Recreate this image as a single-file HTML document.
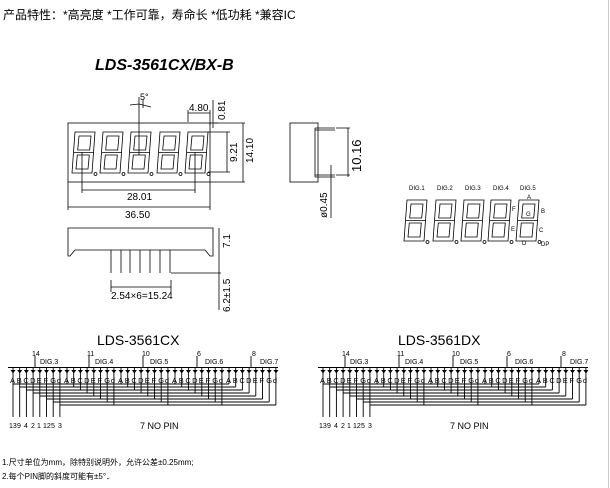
<!DOCTYPE html>
<html><head><meta charset="utf-8">
<style>
html,body{margin:0;padding:0;background:#fff;}
svg{display:block;}
text{font-family:"Liberation Sans","Noto Sans CJK SC",sans-serif;fill:#000;}
</style></head>
<body>
<svg width="610" height="488" viewBox="0 0 610 488" xmlns="http://www.w3.org/2000/svg">
<defs>
 <g id="dg" fill="none" stroke="#000" stroke-width="0.8">
  <polygon points="3,0 23,0 20,41 0,41"/>
  <polygon points="7,4 19,4 17.7,18 5.7,18"/>
  <polygon points="5.3,23 17.3,23 16,37 4,37"/>
  <line x1="2" y1="20.5" x2="21.5" y2="20.5"/>
  <circle cx="23.5" cy="42" r="1.5"/>
 </g>
 <g id="pd" fill="none" stroke="#000" stroke-width="0.9">
  <path d="M-2,367.5 H52"/>
  <path d="M25,356 V367.5"/>
  <path d="M3,367.5V384 M9.7,367.5V387 M16.4,367.5V390 M23.1,367.5V393 M29.8,367.5V396 M36.5,367.5V399 M43.2,367.5V402 M49.9,367.5V405"/>
  <g fill="#000" stroke="none">
   <polygon points="0.5,370 5.5,370 3,373.5"/><polygon points="7.2,370 12.2,370 9.7,373.5"/>
   <polygon points="13.9,370 18.9,370 16.4,373.5"/><polygon points="20.6,370 25.6,370 23.1,373.5"/>
   <polygon points="27.3,370 32.3,370 29.8,373.5"/><polygon points="34,370 39,370 36.5,373.5"/>
   <polygon points="40.7,370 45.7,370 43.2,373.5"/><polygon points="47.4,370 52.4,370 49.9,373.5"/>
  </g>
 </g>
 <g id="pin">
  <use href="#pd" x="10"/><use href="#pd" x="64"/><use href="#pd" x="118"/><use href="#pd" x="172"/><use href="#pd" x="226"/>
  <g fill="none" stroke="#000" stroke-width="0.9">
   <path d="M13,384H229 M19.7,387H235.7 M26.4,390H242.4 M33.1,393H249.1 M39.8,396H255.8 M46.5,399H262.5 M53.2,402H269.2 M59.9,405H275.9"/>
   <path d="M13,384V417 M19.7,387V417 M26.4,390V417 M33.1,393V417 M39.8,396V417 M46.5,399V417 M53.2,402V417 M59.9,405V417"/>
  </g>
 </g>
</defs>

<text x="3" y="19" font-size="12">产品特性：*高亮度 *工作可靠，寿命长 *低功耗 *兼容IC</text>
<text x="95" y="70" font-size="16" font-weight="bold" font-style="italic">LDS-3561CX/BX-B</text>

<g fill="none" stroke="#000" stroke-width="0.8">
 <rect x="68" y="123" width="142" height="59"/>
 <path d="M82,152V193 M195,152V193 M82,190H195 M68,182V210 M210,182V210 M68,207H210"/>
 <path d="M139,155V97 M130,105L139,104L151,107 M143,100V108"/>
 <path d="M188,122V110 M210,125V110 M188,113H210"/>
 <path d="M213,128V100 M214,123H218"/>
 <path d="M208,132H230 M208,172H230 M227,132V172"/>
 <path d="M210,123H245 M210,182H245 M243,123V182"/>
</g>
<use href="#dg" x="72" y="132"/><use href="#dg" x="100" y="132"/><use href="#dg" x="128" y="132"/><use href="#dg" x="157" y="132"/><use href="#dg" x="185" y="132"/>
<text x="140" y="100" font-size="9">5°</text>
<text x="189" y="111" font-size="10">4.80</text>
<text transform="translate(225,120) rotate(-90)" font-size="10">0.81</text>
<text transform="translate(237,162) rotate(-90)" font-size="10">9.21</text>
<text transform="translate(253,163) rotate(-90)" font-size="10">14.10</text>
<text x="127" y="200" font-size="10">28.01</text>
<text x="125" y="218" font-size="10">36.50</text>

<g fill="none" stroke="#000" stroke-width="0.8">
 <rect x="290" y="123" width="28" height="59"/>
 <path d="M315,128H335 M315,130H335 M315,175H335 M315,177H335 M315,128V177"/>
 <path d="M336,128H350 M336,175H350 M348,128V177 M331,165V218"/>
</g>
<text transform="translate(361,172) rotate(-90)" font-size="13">10.16</text>
<text transform="translate(327,218) rotate(-90)" font-size="10">ø0.45</text>

<g fill="none" stroke="#000" stroke-width="0.8">
 <path d="M68,228H213V256H210L205,250H75L70,256H68Z"/>
 <path d="M111,250V273 M121,250V273 M130,250V273 M140,250V273 M150,250V273 M160,250V273 M170,250V273"/>
 <path d="M171,273H221 M219,228V310 M111,280V292 M171,280V292 M111,287H171"/>
</g>
<text transform="translate(230,248) rotate(-90)" font-size="10">7.1</text>
<text transform="translate(230,312) rotate(-90)" font-size="10">6.2±1.5</text>
<text x="111" y="299" font-size="10">2.54×6=15.24</text>

<g font-size="6">
 <text x="409" y="190">DIG.1</text><text x="437" y="190">DIG.2</text><text x="465" y="190">DIG.3</text><text x="493" y="190">DIG.4</text><text x="520" y="190">DIG.5</text>
 <text x="527" y="199">A</text><text x="512" y="211">F</text><text x="541" y="213">B</text><text x="526" y="216">G</text>
 <text x="511" y="231">E</text><text x="539" y="232">C</text><text x="522" y="245">D</text><text x="541" y="246">DP</text>
</g>
<use href="#dg" x="404" y="200"/><use href="#dg" x="433" y="200"/><use href="#dg" x="461" y="200"/><use href="#dg" x="488" y="200"/><use href="#dg" x="516" y="200"/>

<text x="97" y="345" font-size="14">LDS-3561CX</text>
<text x="398" y="345" font-size="14">LDS-3561DX</text>
<use href="#pin"/>
<use href="#pin" x="310"/>
<g font-size="7">
 <text x="32" y="356">14</text><text x="87" y="356">11</text><text x="142" y="356">10</text><text x="197" y="356">6</text><text x="252" y="356">8</text>
 <text x="40" y="364">DIG.3</text><text x="95" y="364">DIG.4</text><text x="150" y="364">DIG.5</text><text x="205" y="364">DIG.6</text><text x="260" y="364">DIG.7</text>
 <text x="342" y="356">14</text><text x="397" y="356">11</text><text x="452" y="356">10</text><text x="507" y="356">6</text><text x="562" y="356">8</text>
 <text x="350" y="364">DIG.3</text><text x="405" y="364">DIG.4</text><text x="460" y="364">DIG.5</text><text x="515" y="364">DIG.6</text><text x="570" y="364">DIG.7</text>
</g>
<g font-size="7.5">
 <text y="383" x="10 16.7 23.4 30.1 36.8 43.5 50.2 56.9 64 70.7 77.4 84.1 90.8 97.5 104.2 110.9 118 124.7 131.4 138.1 144.8 151.5 158.2 164.9 172 178.7 185.4 192.1 198.8 205.5 212.2 218.9 226 232.7 239.4 246.1 252.8 259.5 266.2 272.9">ABCDEFGdABCDEFGdABCDEFGdABCDEFGdABCDEFGd</text>
 <text y="383" x="320 326.7 333.4 340.1 346.8 353.5 360.2 366.9 374 380.7 387.4 394.1 400.8 407.5 414.2 420.9 428 434.7 441.4 448.1 454.8 461.5 468.2 474.9 482 488.7 495.4 502.1 508.8 515.5 522.2 528.9 536 542.7 549.4 556.1 562.8 569.5 576.2 582.9">ABCDEFGdABCDEFGdABCDEFGdABCDEFGdABCDEFGd</text>
</g>
<g font-size="7">
 <text x="9" y="428">13</text><text x="17" y="428">9</text><text x="24" y="428">4</text><text x="31" y="428">2</text><text x="37" y="428">1</text><text x="43" y="428">12</text><text x="51" y="428">5</text><text x="58" y="428">3</text>
 <text x="319" y="428">13</text><text x="327" y="428">9</text><text x="334" y="428">4</text><text x="341" y="428">2</text><text x="347" y="428">1</text><text x="353" y="428">12</text><text x="361" y="428">5</text><text x="368" y="428">3</text>
</g>
<text x="140" y="429" font-size="9">7 NO PIN</text>
<text x="450" y="429" font-size="9">7 NO PIN</text>

<text x="2" y="465" font-size="8">1.尺寸单位为mm，除特别说明外，允许公差±0.25mm;</text>
<text x="2" y="479" font-size="8">2.每个PIN脚的斜度可能有±5°．</text>
<line x1="608.5" y1="0" x2="608.5" y2="488" stroke="#ccc"/>
</svg>
</body></html>
